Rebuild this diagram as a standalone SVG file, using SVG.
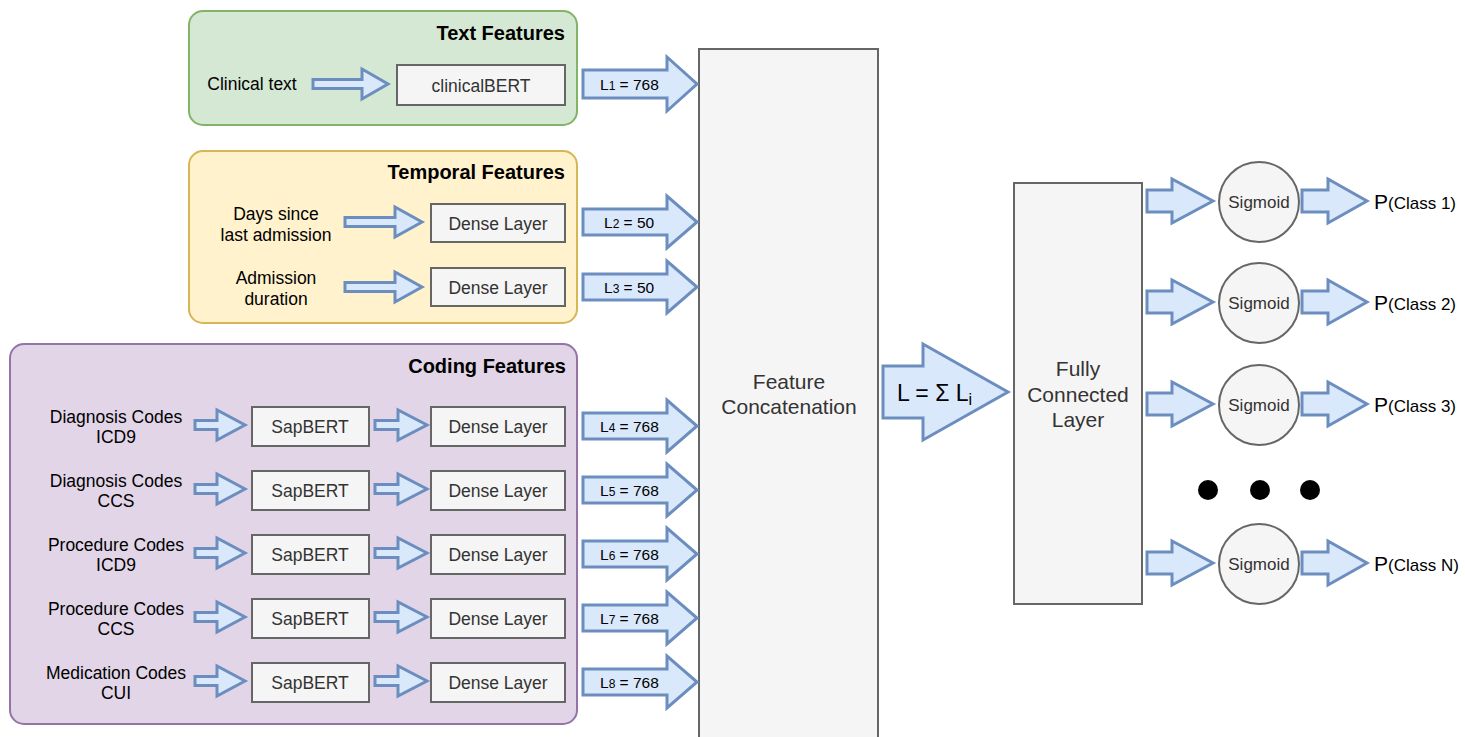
<svg xmlns="http://www.w3.org/2000/svg" width="1465" height="737" viewBox="0 0 1465 737">
<style>
text{font-family:"Liberation Sans",Arial,sans-serif;}
.grp-text{fill:#d5e8d4;stroke:#82b366;stroke-width:2;}
.grp-temp{fill:#fff2cc;stroke:#d6b656;stroke-width:2;}
.grp-code{fill:#e1d5e7;stroke:#9673a6;stroke-width:2;}
.box{fill:#f5f5f5;stroke:#666666;stroke-width:2;}
.arr{fill:#dae8fc;stroke:#6c8ebf;stroke-width:3;stroke-linejoin:miter;}
.title{font-size:20px;font-weight:bold;fill:#000;text-anchor:end;}
.lbl{font-size:17.5px;fill:#000;text-anchor:middle;}
.btxt{font-size:17.5px;fill:#333333;text-anchor:middle;}
.ltxt{font-size:15.5px;fill:#000;}
.sub{font-size:12px;}
.big{font-size:21px;fill:#333333;text-anchor:middle;}
.sig{font-size:17px;fill:#333333;text-anchor:middle;}
.pout{font-size:21px;fill:#000;}
.pcls{font-size:17px;}
.dot{fill:#000;}
</style>
<g id="group-text">
<rect class="grp-text" x="189" y="11" width="388" height="114" rx="14"/>
<text class="title" x="565" y="40">Text Features</text>
<text class="lbl" x="252" y="90">Clinical text</text>
</g>
<g id="group-temporal">
<rect class="grp-temp" x="189" y="151" width="388" height="172" rx="14"/>
<text class="title" x="565" y="179">Temporal Features</text>
<text class="lbl" x="276" y="220">Days since</text>
<text class="lbl" x="276" y="241">last admission</text>
<text class="lbl" x="276" y="284">Admission</text>
<text class="lbl" x="276" y="305">duration</text>
</g>
<g id="group-coding">
<rect class="grp-code" x="10" y="344" width="567" height="380" rx="14"/>
<text class="title" x="566" y="373">Coding Features</text>
<text class="lbl" x="116" y="423">Diagnosis Codes</text>
<text class="lbl" x="116" y="443">ICD9</text>
<text class="lbl" x="116" y="487">Diagnosis Codes</text>
<text class="lbl" x="116" y="507">CCS</text>
<text class="lbl" x="116" y="551">Procedure Codes</text>
<text class="lbl" x="116" y="571">ICD9</text>
<text class="lbl" x="116" y="615">Procedure Codes</text>
<text class="lbl" x="116" y="635">CCS</text>
<text class="lbl" x="116" y="679">Medication Codes</text>
<text class="lbl" x="116" y="699">CUI</text>
</g>
<g id="node-clinicalbert"><rect class="box" x="397" y="65" width="168" height="40"/><text class="btxt" x="481" y="92">clinicalBERT</text></g>
<g id="node-dense-t1"><rect class="box" x="431" y="204" width="134" height="38"/><text class="btxt" x="498" y="230">Dense Layer</text></g>
<g id="node-dense-t2"><rect class="box" x="431" y="268" width="134" height="38"/><text class="btxt" x="498" y="294">Dense Layer</text></g>
<g id="node-sap1"><rect class="box" x="252" y="407" width="117" height="39"/><text class="btxt" x="310" y="433">SapBERT</text></g>
<g id="node-dense1"><rect class="box" x="431" y="407" width="134" height="39"/><text class="btxt" x="498" y="433">Dense Layer</text></g>
<g id="node-sap2"><rect class="box" x="252" y="471" width="117" height="39"/><text class="btxt" x="310" y="497">SapBERT</text></g>
<g id="node-dense2"><rect class="box" x="431" y="471" width="134" height="39"/><text class="btxt" x="498" y="497">Dense Layer</text></g>
<g id="node-sap3"><rect class="box" x="252" y="535" width="117" height="39"/><text class="btxt" x="310" y="561">SapBERT</text></g>
<g id="node-dense3"><rect class="box" x="431" y="535" width="134" height="39"/><text class="btxt" x="498" y="561">Dense Layer</text></g>
<g id="node-sap4"><rect class="box" x="252" y="599" width="117" height="39"/><text class="btxt" x="310" y="625">SapBERT</text></g>
<g id="node-dense4"><rect class="box" x="431" y="599" width="134" height="39"/><text class="btxt" x="498" y="625">Dense Layer</text></g>
<g id="node-sap5"><rect class="box" x="252" y="663" width="117" height="39"/><text class="btxt" x="310" y="689">SapBERT</text></g>
<g id="node-dense5"><rect class="box" x="431" y="663" width="134" height="39"/><text class="btxt" x="498" y="689">Dense Layer</text></g>
<g id="node-concat"><rect class="box" x="699" y="49" width="179" height="700"/><text class="big" x="789" y="389">Feature</text><text class="big" x="789" y="414">Concatenation</text></g>
<g id="node-fc"><rect class="box" x="1014" y="183" width="128" height="421"/><text class="big" x="1078" y="376">Fully</text><text class="big" x="1078" y="402">Connected</text><text class="big" x="1078" y="427">Layer</text></g>
<g id="node-sig1"><circle class="box" cx="1259" cy="202" r="40"/><text class="sig" x="1259" y="208">Sigmoid</text></g>
<g id="node-sig2"><circle class="box" cx="1259" cy="303" r="40"/><text class="sig" x="1259" y="309">Sigmoid</text></g>
<g id="node-sig3"><circle class="box" cx="1259" cy="405" r="40"/><text class="sig" x="1259" y="411">Sigmoid</text></g>
<g id="node-sigN"><circle class="box" cx="1259" cy="564" r="40"/><text class="sig" x="1259" y="570">Sigmoid</text></g>
<g id="node-dots"><circle class="dot" cx="1208" cy="490" r="10"/><circle class="dot" cx="1260" cy="490" r="10"/><circle class="dot" cx="1310" cy="490" r="10"/></g>
<g id="out-labels">
<text class="pout" x="1374" y="209">P<tspan class="pcls">(Class 1)</tspan></text>
<text class="pout" x="1374" y="310">P<tspan class="pcls">(Class 2)</tspan></text>
<text class="pout" x="1374" y="412">P<tspan class="pcls">(Class 3)</tspan></text>
<text class="pout" x="1374" y="571">P<tspan class="pcls">(Class N)</tspan></text>
</g>
<g id="connectors">
<polygon class="arr" points="313,79.5 362,79.5 362,69 388,84 362,99 362,88.5 313,88.5"/>
<polygon class="arr" points="345,217.5 395,217.5 395,207 422,222 395,237 395,226.5 345,226.5"/>
<polygon class="arr" points="345,282.5 395,282.5 395,272 422,287 395,302 395,291.5 345,291.5"/>
<polygon class="arr" points="195,420.5 217,420.5 217,410 245,425 217,440 217,429.5 195,429.5"/>
<polygon class="arr" points="375,420.5 398,420.5 398,410 427,425 398,440 398,429.5 375,429.5"/>
<polygon class="arr" points="195,484.5 217,484.5 217,474 245,489 217,504 217,493.5 195,493.5"/>
<polygon class="arr" points="375,484.5 398,484.5 398,474 427,489 398,504 398,493.5 375,493.5"/>
<polygon class="arr" points="195,548.5 217,548.5 217,538 245,553 217,568 217,557.5 195,557.5"/>
<polygon class="arr" points="375,548.5 398,548.5 398,538 427,553 398,568 398,557.5 375,557.5"/>
<polygon class="arr" points="195,612.5 217,612.5 217,602 245,617 217,632 217,621.5 195,621.5"/>
<polygon class="arr" points="375,612.5 398,612.5 398,602 427,617 398,632 398,621.5 375,621.5"/>
<polygon class="arr" points="195,676.5 217,676.5 217,666 245,681 217,696 217,685.5 195,685.5"/>
<polygon class="arr" points="375,676.5 398,676.5 398,666 427,681 398,696 398,685.5 375,685.5"/>
<polygon class="arr" points="583,70 667,70 667,57 697,84 667,111 667,98 583,98"/>
<polygon class="arr" points="583,209 667,209 667,196 697,222 667,248 667,235 583,235"/>
<polygon class="arr" points="583,274 667,274 667,261 697,287 667,313 667,300 583,300"/>
<polygon class="arr" points="583,413 667,413 667,400 697,426 667,452 667,439 583,439"/>
<polygon class="arr" points="583,477 667,477 667,464 697,490 667,516 667,503 583,503"/>
<polygon class="arr" points="583,541 667,541 667,528 697,554 667,580 667,567 583,567"/>
<polygon class="arr" points="583,605 667,605 667,592 697,618 667,644 667,631 583,631"/>
<polygon class="arr" points="583,669 667,669 667,656 697,682 667,708 667,695 583,695"/>
<polygon class="arr" points="883,366 923,366 923,344 1008,392 923,440 923,418 883,418"/>
<polygon class="arr" points="1147,190 1172,190 1172,179 1213,201 1172,223 1172,212 1147,212"/>
<polygon class="arr" points="1302,190 1328,190 1328,179 1367,201 1328,223 1328,212 1302,212"/>
<polygon class="arr" points="1147,291 1172,291 1172,280 1213,302 1172,324 1172,313 1147,313"/>
<polygon class="arr" points="1302,291 1328,291 1328,280 1367,302 1328,324 1328,313 1302,313"/>
<polygon class="arr" points="1147,393 1172,393 1172,382 1213,404 1172,426 1172,415 1147,415"/>
<polygon class="arr" points="1302,393 1328,393 1328,382 1367,404 1328,426 1328,415 1302,415"/>
<polygon class="arr" points="1147,552 1172,552 1172,541 1213,563 1172,585 1172,574 1147,574"/>
<polygon class="arr" points="1302,552 1328,552 1328,541 1367,563 1328,585 1328,574 1302,574"/>
<text class="ltxt" x="600" y="89.5">L<tspan class="sub">1</tspan> = 768</text>
<text class="ltxt" x="604" y="227.5">L<tspan class="sub">2</tspan> = 50</text>
<text class="ltxt" x="604" y="292.5">L<tspan class="sub">3</tspan> = 50</text>
<text class="ltxt" x="600" y="431.5">L<tspan class="sub">4</tspan> = 768</text>
<text class="ltxt" x="600" y="495.5">L<tspan class="sub">5</tspan> = 768</text>
<text class="ltxt" x="600" y="559.5">L<tspan class="sub">6</tspan> = 768</text>
<text class="ltxt" x="600" y="623.5">L<tspan class="sub">7</tspan> = 768</text>
<text class="ltxt" x="600" y="687.5">L<tspan class="sub">8</tspan> = 768</text>
<text x="897" y="401" style="font-size:23px;fill:#000">L = Σ L<tspan style="font-size:16px" dy="4">i</tspan></text>
</g>
</svg>
